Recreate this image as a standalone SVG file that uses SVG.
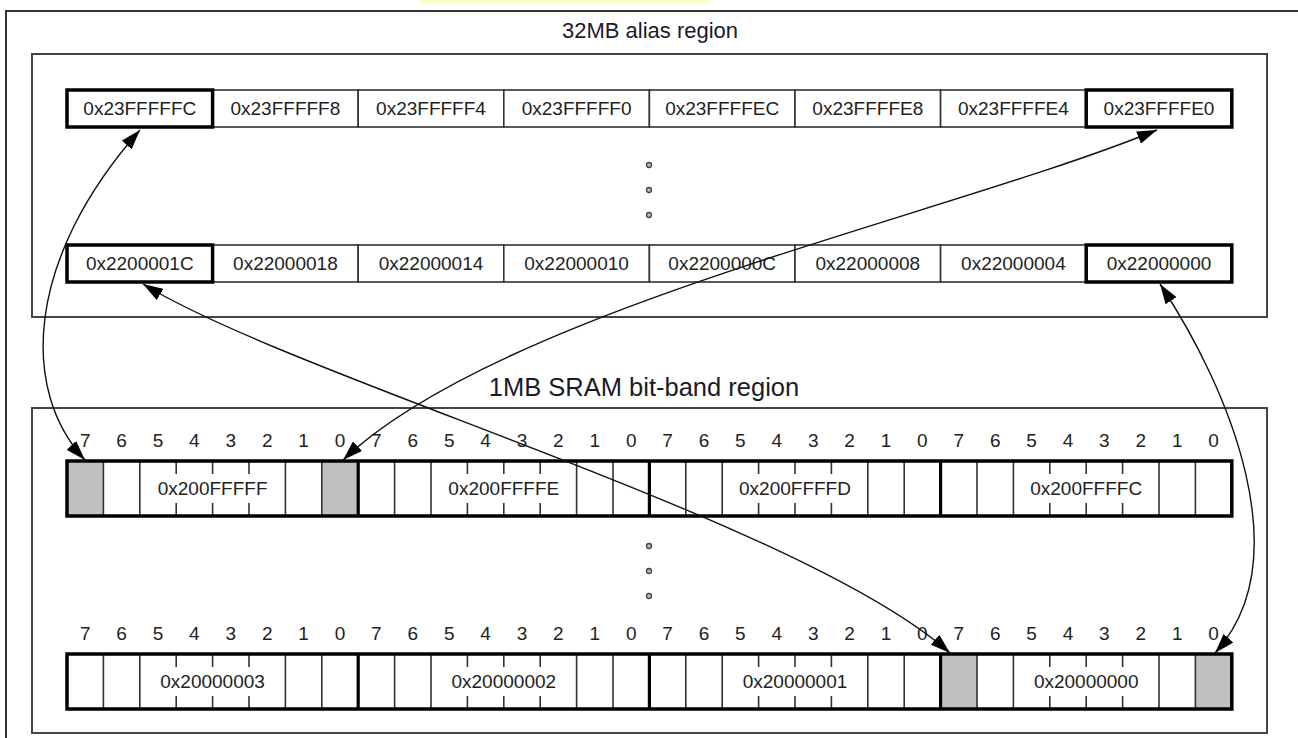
<svg xmlns="http://www.w3.org/2000/svg" width="1298" height="738" viewBox="0 0 1298 738">
<defs>
<marker id="ah" viewBox="0 0 20 13" refX="20" refY="6.5" markerWidth="20" markerHeight="13" markerUnits="userSpaceOnUse" orient="auto-start-reverse"><path d="M0,0 L20,6.5 L0,13 z" fill="#000"/></marker>
</defs>
<style>
.t{font-family:"Liberation Sans",Arial,sans-serif;font-size:19px;fill:#222;text-anchor:middle}
.ttl{fill:#1a1a2a}
.ttlA{font-size:22px}
.ttlB{font-size:25.5px}
.cell{fill:#fff;stroke:#333;stroke-width:1.6}
.thick{fill:none;stroke:#000;stroke-width:3.5}
.bit{stroke:#333;stroke-width:1.6}
.byte{stroke:#000;stroke-width:3.2}
.box{fill:none;stroke:#000;stroke-width:3.5}
.grey{fill:#c0c0c0}
.region{fill:#fff;stroke:#444;stroke-width:2}
.dot{fill:#bbb;stroke:#444;stroke-width:1.3}
.conn{fill:none;stroke:#111;stroke-width:1.4;marker-start:url(#ah);marker-end:url(#ah)}
</style>
<rect x="0" y="0" width="1298" height="738" fill="#fff"/>
<rect x="420" y="0" width="290" height="4" fill="#ffffc8"/>
<rect x="6" y="11" width="1300" height="740" fill="none" stroke="#333" stroke-width="2"/>

<g id="alias-region">
<rect class="region" x="32" y="54" width="1235" height="263"/>
<text class="t ttl ttlA" x="650" y="38">32MB alias region</text>
<circle class="dot" cx="649" cy="165" r="2.5"/>
<circle class="dot" cx="649" cy="190" r="2.5"/>
<circle class="dot" cx="649" cy="215" r="2.5"/>
</g>

<g id="alias-row-top">
<g id="a23FFFFFC"><rect class="cell" x="67" y="90" width="145.6" height="37"/><text class="t" x="139.8" y="115">0x23FFFFFC</text></g>
<g id="a23FFFFF8"><rect class="cell" x="212.6" y="90" width="145.6" height="37"/><text class="t" x="285.4" y="115">0x23FFFFF8</text></g>
<g id="a23FFFFF4"><rect class="cell" x="358.2" y="90" width="145.6" height="37"/><text class="t" x="431" y="115">0x23FFFFF4</text></g>
<g id="a23FFFFF0"><rect class="cell" x="503.8" y="90" width="145.6" height="37"/><text class="t" x="576.6" y="115">0x23FFFFF0</text></g>
<g id="a23FFFFEC"><rect class="cell" x="649.4" y="90" width="145.6" height="37"/><text class="t" x="722.2" y="115">0x23FFFFEC</text></g>
<g id="a23FFFFE8"><rect class="cell" x="795" y="90" width="145.6" height="37"/><text class="t" x="867.8" y="115">0x23FFFFE8</text></g>
<g id="a23FFFFE4"><rect class="cell" x="940.6" y="90" width="145.6" height="37"/><text class="t" x="1013.4" y="115">0x23FFFFE4</text></g>
<g id="a23FFFFE0"><rect class="cell" x="1086.2" y="90" width="145.6" height="37"/><text class="t" x="1159" y="115">0x23FFFFE0</text></g>
<rect class="thick" x="67" y="90" width="145.6" height="37"/>
<rect class="thick" x="1086.2" y="90" width="145.6" height="37"/>
</g>

<g id="alias-row-bottom">
<g id="a2200001C"><rect class="cell" x="67" y="245" width="145.6" height="37"/><text class="t" x="139.8" y="270">0x2200001C</text></g>
<g id="a22000018"><rect class="cell" x="212.6" y="245" width="145.6" height="37"/><text class="t" x="285.4" y="270">0x22000018</text></g>
<g id="a22000014"><rect class="cell" x="358.2" y="245" width="145.6" height="37"/><text class="t" x="431" y="270">0x22000014</text></g>
<g id="a22000010"><rect class="cell" x="503.8" y="245" width="145.6" height="37"/><text class="t" x="576.6" y="270">0x22000010</text></g>
<g id="a2200000C"><rect class="cell" x="649.4" y="245" width="145.6" height="37"/><text class="t" x="722.2" y="270">0x2200000C</text></g>
<g id="a22000008"><rect class="cell" x="795" y="245" width="145.6" height="37"/><text class="t" x="867.8" y="270">0x22000008</text></g>
<g id="a22000004"><rect class="cell" x="940.6" y="245" width="145.6" height="37"/><text class="t" x="1013.4" y="270">0x22000004</text></g>
<g id="a22000000"><rect class="cell" x="1086.2" y="245" width="145.6" height="37"/><text class="t" x="1159" y="270">0x22000000</text></g>
<rect class="thick" x="67" y="245" width="145.6" height="37"/>
<rect class="thick" x="1086.2" y="245" width="145.6" height="37"/>
</g>

<g id="bitband-region">
<rect class="region" x="32" y="408" width="1235" height="325"/>
<text class="t ttl ttlB" x="644" y="396">1MB SRAM bit-band region</text>
<circle class="dot" cx="649" cy="546" r="2.5"/>
<circle class="dot" cx="649" cy="571" r="2.5"/>
<circle class="dot" cx="649" cy="596" r="2.5"/>
</g>

<g id="bitnums-top" class="t">
<text x="85.2" y="447">7</text><text x="121.6" y="447">6</text><text x="158" y="447">5</text><text x="194.4" y="447">4</text><text x="230.8" y="447">3</text><text x="267.2" y="447">2</text><text x="303.6" y="447">1</text><text x="340" y="447">0</text>
<text x="376.4" y="447">7</text><text x="412.8" y="447">6</text><text x="449.2" y="447">5</text><text x="485.6" y="447">4</text><text x="522" y="447">3</text><text x="558.4" y="447">2</text><text x="594.8" y="447">1</text><text x="631.2" y="447">0</text>
<text x="667.6" y="447">7</text><text x="704" y="447">6</text><text x="740.4" y="447">5</text><text x="776.8" y="447">4</text><text x="813.2" y="447">3</text><text x="849.6" y="447">2</text><text x="886" y="447">1</text><text x="922.4" y="447">0</text>
<text x="958.8" y="447">7</text><text x="995.2" y="447">6</text><text x="1031.6" y="447">5</text><text x="1068" y="447">4</text><text x="1104.4" y="447">3</text><text x="1140.8" y="447">2</text><text x="1177.2" y="447">1</text><text x="1213.6" y="447">0</text>
</g>

<g id="bitrow-top">
<rect x="67" y="461" width="1164.8" height="55" fill="#fff"/>
<rect class="grey" x="67" y="461" width="36.4" height="55"/>
<rect class="grey" x="321.8" y="461" width="36.4" height="55"/>
<path class="bit" d="M103.4,461V516M139.8,461V516M285.4,461V516M321.8,461V516M394.6,461V516M431,461V516M576.6,461V516M613,461V516M685.8,461V516M722.2,461V516M867.8,461V516M904.2,461V516M977,461V516M1013.4,461V516M1159,461V516M1195.4,461V516"/>
<path class="bit" d="M176.2,461v13M212.6,461v13M249,461v13M176.2,516v-13M212.6,516v-13M249,516v-13M467.4,461v13M503.8,461v13M540.2,461v13M467.4,516v-13M503.8,516v-13M540.2,516v-13M758.6,461v13M795,461v13M831.4,461v13M758.6,516v-13M795,516v-13M831.4,516v-13M1049.8,461v13M1086.2,461v13M1122.6,461v13M1049.8,516v-13M1086.2,516v-13M1122.6,516v-13"/>
<path class="byte" d="M358.2,461V516M649.4,461V516M940.6,461V516"/>
<rect class="box" x="67" y="461" width="1164.8" height="55"/>
<g id="b200FFFFF"><text class="t" x="212.6" y="495">0x200FFFFF</text></g>
<g id="b200FFFFE"><text class="t" x="503.8" y="495">0x200FFFFE</text></g>
<g id="b200FFFFD"><text class="t" x="795" y="495">0x200FFFFD</text></g>
<g id="b200FFFFC"><text class="t" x="1086.2" y="495">0x200FFFFC</text></g>
</g>

<g id="bitnums-bottom" class="t">
<text x="85.2" y="640">7</text><text x="121.6" y="640">6</text><text x="158" y="640">5</text><text x="194.4" y="640">4</text><text x="230.8" y="640">3</text><text x="267.2" y="640">2</text><text x="303.6" y="640">1</text><text x="340" y="640">0</text>
<text x="376.4" y="640">7</text><text x="412.8" y="640">6</text><text x="449.2" y="640">5</text><text x="485.6" y="640">4</text><text x="522" y="640">3</text><text x="558.4" y="640">2</text><text x="594.8" y="640">1</text><text x="631.2" y="640">0</text>
<text x="667.6" y="640">7</text><text x="704" y="640">6</text><text x="740.4" y="640">5</text><text x="776.8" y="640">4</text><text x="813.2" y="640">3</text><text x="849.6" y="640">2</text><text x="886" y="640">1</text><text x="922.4" y="640">0</text>
<text x="958.8" y="640">7</text><text x="995.2" y="640">6</text><text x="1031.6" y="640">5</text><text x="1068" y="640">4</text><text x="1104.4" y="640">3</text><text x="1140.8" y="640">2</text><text x="1177.2" y="640">1</text><text x="1213.6" y="640">0</text>
</g>

<g id="bitrow-bottom">
<rect x="67" y="654" width="1164.8" height="55" fill="#fff"/>
<rect class="grey" x="940.6" y="654" width="36.4" height="55"/>
<rect class="grey" x="1195.4" y="654" width="36.4" height="55"/>
<path class="bit" d="M103.4,654V709M139.8,654V709M285.4,654V709M321.8,654V709M394.6,654V709M431,654V709M576.6,654V709M613,654V709M685.8,654V709M722.2,654V709M867.8,654V709M904.2,654V709M977,654V709M1013.4,654V709M1159,654V709M1195.4,654V709"/>
<path class="bit" d="M176.2,654v13M212.6,654v13M249,654v13M176.2,709v-13M212.6,709v-13M249,709v-13M467.4,654v13M503.8,654v13M540.2,654v13M467.4,709v-13M503.8,709v-13M540.2,709v-13M758.6,654v13M795,654v13M831.4,654v13M758.6,709v-13M795,709v-13M831.4,709v-13M1049.8,654v13M1086.2,654v13M1122.6,654v13M1049.8,709v-13M1086.2,709v-13M1122.6,709v-13"/>
<path class="byte" d="M358.2,654V709M649.4,654V709M940.6,654V709"/>
<rect class="box" x="67" y="654" width="1164.8" height="55"/>
<g id="b20000003"><text class="t" x="212.6" y="688">0x20000003</text></g>
<g id="b20000002"><text class="t" x="503.8" y="688">0x20000002</text></g>
<g id="b20000001"><text class="t" x="795" y="688">0x20000001</text></g>
<g id="b20000000"><text class="t" x="1086.2" y="688">0x20000000</text></g>
</g>

<g id="connectors">
<path class="conn" d="M140,130 C25,260 20,390 85,460"/>
<path class="conn" d="M1157,130 C950,215 500,310 343,460"/>
<path class="conn" d="M143,284 C300,380 800,520 950,653"/>
<path class="conn" d="M1160,284 C1230,390 1300,560 1215,653"/>
</g>
</svg>
